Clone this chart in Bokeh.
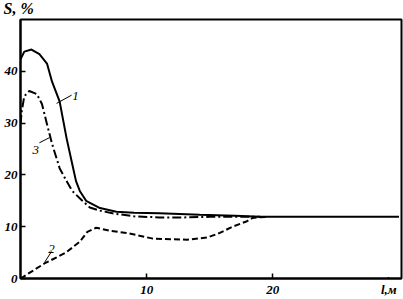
from bokeh.plotting import figure
from bokeh.models import Range1d, FixedTicker, Label, BoxAnnotation
from bokeh.embed import file_html
from bokeh.resources import INLINE

# Curve 1 (solid)
x1 = [0, 0.3, 0.87, 1.5, 2.1, 2.5, 3.1, 3.65, 4.1, 4.4, 4.7, 5.2, 6.3, 7.6, 9, 11, 14.2, 17, 19, 22, 25, 30]
y1 = [42.3, 43.8, 44.2, 43.3, 41.5, 38.0, 34.2, 27.1, 22.1, 18.8, 16.9, 15.0, 13.6, 12.9, 12.7, 12.6, 12.3, 12.1, 11.9, 11.9, 11.9, 11.9]
# Curve 3 (dash-dot)
x3 = [0, 0.1, 0.3, 0.7, 1.3, 1.7, 2.1, 2.5, 3.1, 3.65, 4.1, 4.9, 5.5, 6.3, 7.5, 9, 11, 13, 15, 17, 19]
y3 = [29.8, 32.3, 35.2, 36.2, 35.6, 33.7, 29.8, 26.0, 21.3, 18.8, 16.9, 15.0, 13.7, 13.1, 12.5, 12.0, 11.8, 11.8, 11.9, 11.9, 11.9]
# Curve 2 (dashed)
x2 = [0, 1.9, 3.6, 4.7, 5.3, 6.0, 7.1, 8.4, 10.5, 13.2, 14.8, 15.8, 16.8, 17.9, 18.4, 19.5]
y2 = [0, 2.9, 5.0, 7.1, 9.0, 9.8, 9.2, 8.8, 7.7, 7.5, 7.9, 8.8, 10.0, 11.0, 11.7, 11.9]

y_ticks = [0, 10, 20, 30, 40]
x_ticks = [10, 20]
y_title = "S, %"
x_title = "l,м"
x_title_pos = 29.2

p = figure(width=403, height=299, output_backend="svg", toolbar_location=None,
           x_range=Range1d(0, 30.2), y_range=Range1d(0, 50),
           min_border_left=20, min_border_right=2, min_border_top=19, min_border_bottom=21)
p.grid.visible = False
p.outline_line_color = "black"
p.outline_line_width = 2
p.background_fill_color = "white"
p.border_fill_color = "white"

for ax in (p.xaxis[0], p.yaxis[0]):
    ax.axis_line_color = "black"
    ax.axis_line_width = 2
    ax.major_tick_in = 5
    ax.major_tick_out = 0
    ax.minor_tick_line_color = None
    ax.major_tick_line_width = 1.5
    ax.major_label_text_font = "Liberation Serif"
    ax.major_label_text_font_style = "bold italic"
    ax.major_label_text_font_size = "13px"
    ax.major_label_text_color = "black"
p.yaxis[0].ticker = FixedTicker(ticks=y_ticks)
# the x-axis title sits in the tick-label row, at the right end
p.xaxis[0].ticker = FixedTicker(ticks=x_ticks + [x_title_pos])
p.xaxis[0].major_label_overrides = {x_title_pos: x_title}
p.yaxis[0].major_label_standoff = 3
p.xaxis[0].major_label_standoff = 3
# hide the tick mark that carries the axis title (drawn above the axis)
p.add_layout(BoxAnnotation(left=x_title_pos - 0.3, right=x_title_pos + 0.3, bottom=0.3, top=1.6,
                           fill_color="white", fill_alpha=1, line_color=None, level="overlay"))
p.quad(left=[x_title_pos - 0.3], right=[x_title_pos + 0.3], bottom=[0.3], top=[1.6],
       fill_color="white", fill_alpha=1, line_color=None, level="overlay")

p.line(x1, y1, line_color="black", line_width=2)
p.line(x3, y3, line_color="black", line_width=2, line_dash="9 3 2 3")
p.line(x2, y2, line_color="black", line_width=2, line_dash="6 3")

# leader lines and curve numbers
p.line([2.86, 4.05], [33.8, 35.4], line_color="black", line_width=1)
p.line([1.5, 2.3], [26.2, 27.2], line_color="black", line_width=1)
p.line([2.46, 1.9], [5.2, 3.1], line_color="black", line_width=1)
for txt, lx, ly in (("1", 4.1, 34.5), ("3", 0.95, 24.0), ("2", 2.2, 5.0)):
    p.add_layout(Label(x=lx, y=ly, text=txt, text_font="Liberation Serif",
                       text_font_style="italic", text_font_size="13px", text_color="black"))

# y-axis title in the top panel
p.add_layout(Label(x=-17, y=3, x_units="screen", y_units="screen", text=y_title,
                   text_font="Liberation Serif", text_font_style="bold italic",
                   text_font_size="16px", text_color="black"), "above")

open("out.html", "w").write(file_html(p, INLINE))
